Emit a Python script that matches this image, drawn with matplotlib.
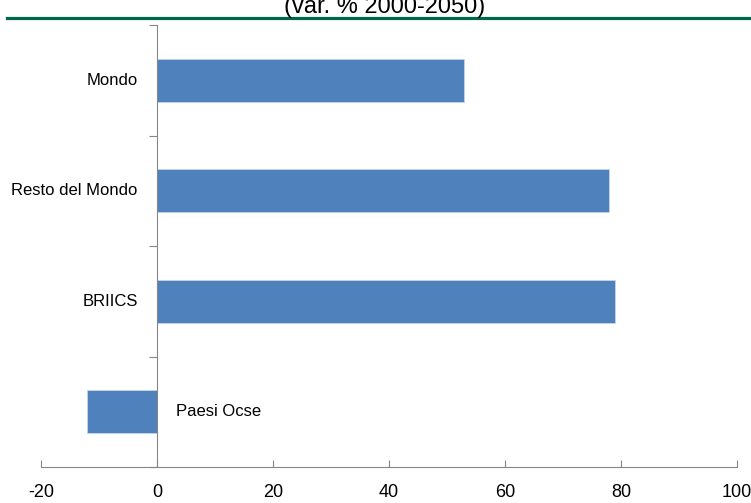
import matplotlib.pyplot as plt
from matplotlib.ticker import MultipleLocator, FixedLocator

# data (top to bottom)
categories = ["Mondo", "Resto del Mondo", "BRIICS", "Paesi Ocse"]
values = [53, 78, 79, -12]
title = "(var. % 2000-2050)"

font = ["Liberation Sans", "DejaVu Sans"]
plt.rcParams["font.family"] = font
plt.rcParams["axes.unicode_minus"] = False

W, H = 751, 503
fig = plt.figure(figsize=(W / 100, H / 100), dpi=100)
ax = fig.add_axes([41 / W, (H - 467) / H, (737 - 41) / W, (467 - 25) / H])

ypos = list(range(len(categories)))
ax.barh(ypos, values, height=0.39, color="#4f81bd", edgecolor="#c5d5ea", linewidth=0.6)

ax.set_xlim(-20, 100)
ax.set_ylim(len(categories) - 0.5, -0.5)
ax.xaxis.set_major_locator(MultipleLocator(20))
ax.yaxis.set_major_locator(FixedLocator([i - 0.5 for i in range(len(categories) + 1)]))
ax.set_yticklabels([])

gray = "#868686"
for s in ["top", "right"]:
    ax.spines[s].set_visible(False)
ax.spines["left"].set_position(("data", 0))
ax.spines["left"].set_color(gray)
ax.spines["bottom"].set_color(gray)
ax.tick_params(axis="x", direction="in", length=5, color=gray, labelsize=13, pad=12)
ax.tick_params(axis="y", direction="out", length=6, color=gray)

# category labels next to the zero axis
for y, name, v in zip(ypos, categories, values):
    if v >= 0:
        ax.annotate(name, (0, y), xytext=(-14, 0), textcoords="offset points",
                    ha="right", va="center", fontsize=12)
    else:
        ax.annotate(name, (0, y), xytext=(14, 0), textcoords="offset points",
                    ha="left", va="center", fontsize=12)

# header: cut title and green rule
fig.text(385 / W, 1 - 13 / H, title, ha="center", va="baseline", fontsize=17)
fig.add_artist(plt.Line2D([7 / W, 1], [1 - 17.5 / H] * 2, color="#00664c",
                          linewidth=2.3, transform=fig.transFigure))

fig.savefig("out.png", dpi=100)
